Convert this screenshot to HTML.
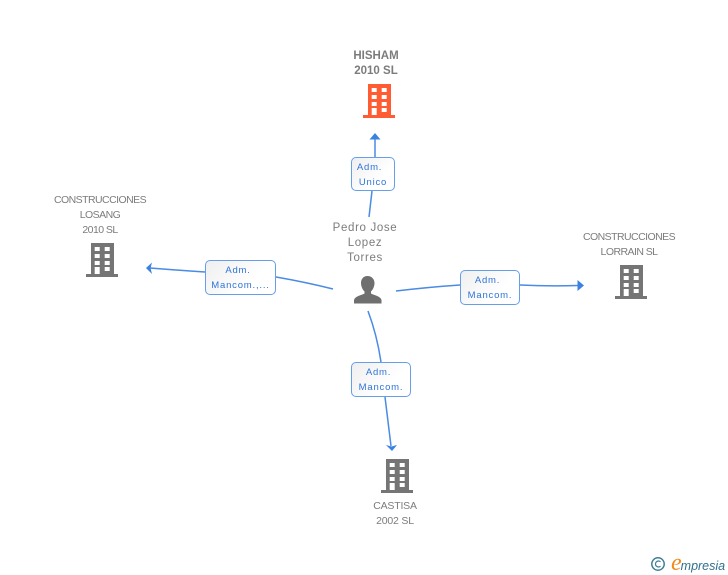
<!DOCTYPE html>
<html>
<head>
<meta charset="utf-8">
<style>
html,body{margin:0;padding:0;background:#fff;}
#c{position:relative;width:728px;height:575px;overflow:hidden;background:#fff;font-family:"Liberation Sans",sans-serif;}
.t{position:absolute;text-align:center;color:#7c7c7c;font-size:10.5px;letter-spacing:-.55px;line-height:15px;white-space:nowrap;transform:translateX(-50%);}
.b{position:absolute;box-sizing:border-box;border:1.8px solid #669fe8;border-radius:5px;background:linear-gradient(135deg,#efefef,#fff 65%);color:#2f74d8;font-size:9.5px;letter-spacing:.8px;line-height:15px;text-align:center;padding-top:2px;white-space:nowrap;}
.b span{position:relative;left:-2.500px;}
svg{position:absolute;left:0;top:0;}
</style>
</head>
<body>
<div id="c">
<svg width="728" height="575" viewBox="0 0 728 575">
<defs>
<g id="bld">
<path fill-rule="evenodd" d="M5 0H28V31H32V34H0V31H5ZM8.700 4V8H13.700V4ZM18.700 4V8H23.700V4ZM8.700 11V15H13.700V11ZM18.700 11V15H23.700V11ZM8.700 18V22H13.700V18ZM18.700 18V22H23.700V18ZM8.700 24V31H13.700V24ZM18.700 24V28H23.700V24Z"/>
</g>
</defs>
<g fill="none" stroke="#4a8be3" stroke-width="1.5">
<path d="M369 217L372 191"/>
<path d="M375 157V136"/>
<path d="M333 289Q305 282 276 277"/>
<path d="M205 272Q175 270 150 268"/>
<path d="M396 291Q430 287 460 285"/>
<path d="M520 285Q550 286.500 578 285.500"/>
<path d="M368 311Q377 335 381 362"/>
<path d="M385 397L391 446"/>
</g>
<g fill="#3b82e0">
<path d="M375 133L380.500 139.500H369.500Z"/>
<path d="M146 268L152 262.500L150.500 268L152 274Z"/>
<path d="M584 285.500L577.500 280V291Z"/>
<path d="M392 451L386 445L391.500 446.500L397 445Z"/>
</g>
<use href="#bld" x="363" y="84" fill="#ff5c33"/>
<use href="#bld" x="86" y="243" fill="#757575"/>
<use href="#bld" x="615" y="265" fill="#757575"/>
<use href="#bld" x="381" y="459" fill="#757575"/>
<path fill="#6f6f6f" d="M367.500 276C363 276 361 279.500 361 283C361 287 363 290 364.500 291.500V293.500C361 295.500 355 296 354 300V303.500H381.500V300C380.500 296 374.500 295.500 371 293.500V291.500C372.500 290 374.500 287 374.500 283C374.500 279.500 372 276 367.500 276Z"/>
<circle cx="658" cy="564" r="6.200" fill="none" stroke="#3f7f96" stroke-width="1.500"/>
<path d="M660.500 561.800A3 3 0 1 0 660.500 566.200" fill="none" stroke="#3f7f96" stroke-width="1.200"/>
</svg>

<div class="t" style="left:376px;top:48.500px;font-weight:bold;font-size:11.5px;letter-spacing:0;">HISHAM<br>2010 SL</div>
<div class="t" style="left:100px;top:193px;">CONSTRUCCIONES<br>LOSANG<br>2010 SL</div>
<div class="t" style="left:629px;top:230px;">CONSTRUCCIONES<br>LORRAIN SL</div>
<div class="t" style="left:395px;top:499px;letter-spacing:-.2px;">CASTISA<br>2002 SL</div>
<div class="t" style="left:365px;top:220.500px;font-size:11.5px;letter-spacing:.65px;">Pedro Jose<br>Lopez<br>Torres</div>

<div class="b" style="left:351px;top:157px;width:44px;height:34px;">Adm.&nbsp;&nbsp;<br>Unico</div>
<div class="b" style="left:205px;top:260px;width:71px;height:35px;"><span>Adm.</span><br>Mancom.,...</div>
<div class="b" style="left:460px;top:270px;width:60px;height:35px;"><span>Adm.</span><br>Mancom.</div>
<div class="b" style="left:351px;top:362px;width:60px;height:35px;"><span>Adm.</span><br>Mancom.</div>

<div style="position:absolute;left:671px;top:555px;font-family:'Liberation Sans',sans-serif;font-style:italic;font-size:12.5px;color:#2f6f8f;white-space:nowrap;"><span style="color:#f08a1d;font-family:'Liberation Serif',serif;font-size:24px;line-height:16px;">e</span><span style="margin-left:-1px;">mpresia</span></div>
</div>
</body>
</html>
